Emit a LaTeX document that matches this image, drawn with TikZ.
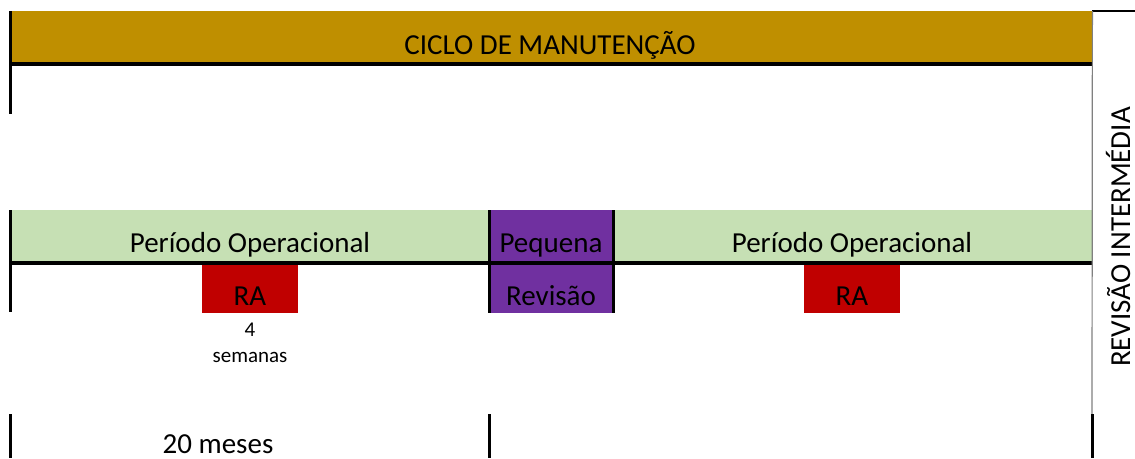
\documentclass[tikz,border=0pt]{standalone}
\usepackage{fontspec}
\setmainfont{Carlito}
\usetikzlibrary{positioning}
\definecolor{ouro}{HTML}{BF8F00}
\definecolor{verde}{HTML}{C6E0B4}
\definecolor{roxo}{HTML}{7030A0}
\definecolor{verm}{HTML}{C00000}
\tikzset{
  faixa/.style={fill=#1,draw=none,inner sep=0pt,anchor=north west},
  borda/.style={line width=4pt},
  vert/.style={line width=3pt},
  grande/.style={font=\fontsize{29}{35}\selectfont,inner sep=0pt,anchor=base},
  pequeno/.style={font=\fontsize{21}{25}\selectfont,inner sep=0pt,anchor=base}
}
\begin{document}
\begin{tikzpicture}[x=1pt,y=-1pt]
  \useasboundingbox (0,0) rectangle (1135,458);
  % faixas
  \node[faixa=ouro,minimum width=1083pt,minimum height=53pt] (ciclo) at (9,11) {};
  \node[faixa=verde,minimum width=1083pt,minimum height=52.5pt] (oper) at (9,210) {};
  \node[faixa=roxo,minimum width=126pt,minimum height=103pt] (peq) at (488,210) {};
  \node[faixa=verm,minimum width=96pt,minimum height=48.5pt] (ra1) at (202,264.5) {};
  \node[faixa=verm,minimum width=96pt,minimum height=48.5pt] (ra2) at (804,264.5) {};
  % textos
  \node[grande] (tciclo) at (550,54) {CICLO DE MANUTENÇÃO};
  \node[grande] (top1) at (250,252) {Período Operacional};
  \node[grande] (top2) at (852,252) {Período Operacional};
  \node[grande] (tpeq) at (551,252) {Pequena};
  \node[grande] (trev) at (551,305) {Revisão};
  \node[grande] (tra1) at (250,305) {RA};
  \node[grande] (tra2) at (852,305) {RA};
  \node[pequeno] (tquatro) at (250,336) {4};
  \node[pequeno] (tsem) at (250,362) {semanas};
  \node[grande] (tmeses) at (218,453) {20 meses};
  \node[grande,rotate=90] (trevint) at (1130,237) {REVISÃO INTERMÉDIA};
  % linhas
  \draw[borda] (ciclo.south west) -- (ciclo.south east);
  \draw[borda] (oper.south west) -- (oper.south east);
  \draw[vert] ([xshift=1.5pt]ciclo.north west) -- ++(0,103);
  \draw[vert] ([xshift=1.5pt]oper.north west) -- ++(0,102);
  \draw[vert] ([xshift=1.5pt]peq.north west) -- ([xshift=1.5pt]peq.south west);
  \draw[vert] ([xshift=-0.7pt]peq.north east) -- ([xshift=-0.7pt]peq.south east);
  \draw[line width=2pt] (ciclo.north east) -- (1135,11);
  \draw[line width=1.2pt,gray] (ciclo.north east) -- (1092,414) coordinate (meio);
  \draw[vert] (meio) -- (1092,458);
  \draw[vert] (10.5,414) -- (10.5,458);
  \draw[vert] (489.5,414) -- (489.5,458);
\end{tikzpicture}
\end{document}
